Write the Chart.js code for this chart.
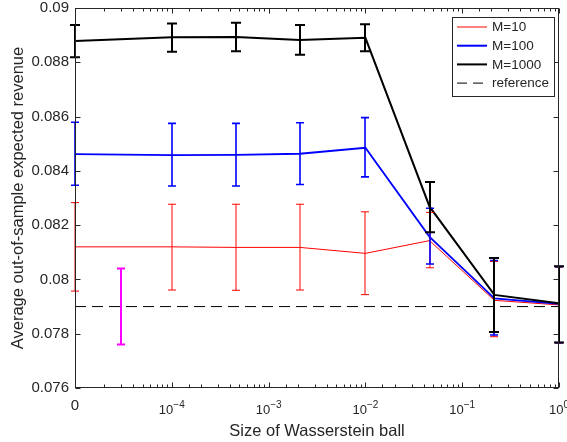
<!DOCTYPE html>
<html lang="en">
<head>
<meta charset="UTF-8">
<title>Wasserstein ball revenue</title>
<style>
    body { margin: 0; background: #fff; }
    #wrap { width: 567px; height: 442px; }
</style>
</head>
<body>
<div id="wrap"><canvas id="revChart" width="567" height="442"></canvas></div>

<script src="https://cdn.jsdelivr.net/npm/chart.js"></script>
<script>
    // ball sizes (the first one is shown as "0" on the log axis)
    const ballSizes = [0.00001, 0.0001, 0.00046, 0.0021, 0.01, 0.046, 0.215, 1];

    const m10Mean = [0.0812, 0.0812, 0.08118, 0.08118, 0.08096, 0.08143, 0.07923, 0.07906];
    const m10Lo   = [0.07957, 0.07961, 0.0796, 0.07961, 0.07944, 0.08043, 0.07789, 0.07765];
    const m10Hi   = [0.08283, 0.08277, 0.08277, 0.08277, 0.08249, 0.08247, 0.08066, 0.08045];

    const m100Mean = [0.08462, 0.08458, 0.08459, 0.08463, 0.08485, 0.08157, 0.0793, 0.0791];
    const m100Lo   = [0.08347, 0.08344, 0.08344, 0.0835, 0.08378, 0.08057, 0.07795, 0.07767];
    const m100Hi   = [0.08579, 0.08575, 0.08575, 0.08577, 0.08596, 0.08262, 0.0807, 0.08047];

    const m1000Mean = [0.08878, 0.08892, 0.08893, 0.08882, 0.0889, 0.08268, 0.07943, 0.07912];
    const m1000Lo   = [0.08819, 0.08839, 0.08841, 0.08828, 0.08841, 0.08174, 0.07806, 0.07768];
    const m1000Hi   = [0.08937, 0.08943, 0.08946, 0.08937, 0.0894, 0.08359, 0.08079, 0.08049];

    // magenta bar (no line)
    const benchX = [0.00003];
    const benchMean = [0.079];
    const benchLo = [0.0776];
    const benchHi = [0.0804];

    const refLevel = 0.079;
    const refX = [0.00001, 1];

    const seriesNames = ['M=10', 'M=100', 'M=1000', 'reference'];
    const yTicks = [0.076, 0.078, 0.08, 0.082, 0.084, 0.086, 0.088, 0.09];

    const txt = '#262626';
    const fam = '"Liberation Sans", Arial, Helvetica, sans-serif';

    function pts(xs, ys) {
        return xs.map((x, i) => ({ x: x, y: ys[i] }));
    }

    // error bars + frame + tick marks + legend
    const framePlugin = {
        id: 'frame',
        afterDatasetsDraw(chart) {
            const ctx = chart.ctx;
            const xs = chart.scales.x, ys = chart.scales.y;
            function bars(xv, lo, hi, color, lw, cap) {
                ctx.save();
                ctx.strokeStyle = color;
                ctx.lineWidth = lw;
                for (let i = 0; i < xv.length; i++) {
                    const px = Math.round(xs.getPixelForValue(xv[i]));
                    const a = ys.getPixelForValue(hi[i]);
                    const b = ys.getPixelForValue(lo[i]);
                    ctx.beginPath();
                    ctx.moveTo(px, a); ctx.lineTo(px, b);
                    ctx.moveTo(px - cap, a); ctx.lineTo(px + cap, a);
                    ctx.moveTo(px - cap, b); ctx.lineTo(px + cap, b);
                    ctx.stroke();
                }
                ctx.restore();
            }
            bars(ballSizes, m10Lo, m10Hi, '#ff0000', 1, 4);
            bars(ballSizes, m100Lo, m100Hi, '#0000ff', 1.6, 4);
            bars(ballSizes, m1000Lo, m1000Hi, '#000000', 2, 5);
            bars(benchX, benchLo, benchHi, '#ff00ff', 2, 4);
        },
        afterDraw(chart) {
            const ctx = chart.ctx;
            const a = chart.chartArea;
            const xs = chart.scales.x, ys = chart.scales.y;
            const L = Math.round(a.left) + 0.5, R = Math.round(a.right) - 0.5;
            const T = Math.round(a.top) + 0.5, B = Math.round(a.bottom) - 0.5;
            ctx.save();
            ctx.strokeStyle = txt;
            ctx.lineWidth = 1;
            ctx.strokeRect(L, T, R - L, B - T);

            // x ticks (inside, top and bottom)
            ctx.beginPath();
            xs.ticks.forEach(t => {
                const e = Math.log10(t.value);
                const major = Math.abs(e - Math.round(e)) < 1e-6;
                const len = major ? 5 : 3;
                const px = Math.round(xs.getPixelForValue(t.value)) + 0.5;
                ctx.moveTo(px, B); ctx.lineTo(px, B - len);
                ctx.moveTo(px, T); ctx.lineTo(px, T + len);
            });
            // y ticks (inside, left and right)
            ys.ticks.forEach(t => {
                const py = Math.round(ys.getPixelForValue(t.value)) + 0.5;
                ctx.moveTo(L, py); ctx.lineTo(L + 5, py);
                ctx.moveTo(R, py); ctx.lineTo(R - 5, py);
            });
            ctx.stroke();

            // x tick labels with superscripts
            ctx.fillStyle = txt;
            ctx.textBaseline = 'alphabetic';
            xs.ticks.forEach(t => {
                const e = Math.log10(t.value);
                const ri = Math.round(e);
                if (Math.abs(e - ri) > 1e-6) return;
                const px = xs.getPixelForValue(t.value);
                if (ri === -5) {
                    ctx.font = '15px ' + fam;
                    ctx.textAlign = 'center';
                    ctx.fillText('0', px, 410);
                    return;
                }
                const base = '10', sup = (ri < 0 ? '\u2212' : '') + Math.abs(ri);
                ctx.font = '13px ' + fam;
                const wb = ctx.measureText(base).width;
                ctx.font = '10px ' + fam;
                const we = ctx.measureText(sup).width;
                const x0 = px - (wb + we) / 2;
                ctx.textAlign = 'left';
                ctx.font = '13px ' + fam;
                ctx.fillText(base, x0, 414);
                ctx.font = '10px ' + fam;
                ctx.fillText(sup, x0 + wb, 408);
            });

            // legend
            const lx = 452.5, ly = 17.5, lw = 102, lh = 79;
            ctx.fillStyle = '#fff';
            ctx.fillRect(lx, ly, lw, lh);
            ctx.strokeStyle = txt;
            ctx.lineWidth = 1;
            ctx.strokeRect(lx, ly, lw, lh);
            const styles = [
                { c: '#ff0000', w: 1, d: [] },
                { c: '#0000ff', w: 2, d: [] },
                { c: '#000000', w: 2, d: [] },
                { c: '#000000', w: 1, d: [10, 6] }
            ];
            ctx.font = '13.5px ' + fam;
            ctx.textAlign = 'left';
            ctx.textBaseline = 'middle';
            seriesNames.forEach((name, i) => {
                const yy = 27 + i * 18.7;
                const s = styles[i];
                ctx.strokeStyle = s.c;
                ctx.lineWidth = s.w;
                ctx.setLineDash(s.d);
                ctx.beginPath();
                ctx.moveTo(457, yy); ctx.lineTo(487, yy);
                ctx.stroke();
                ctx.setLineDash([]);
                ctx.fillStyle = txt;
                ctx.fillText(name, 492, yy + 0.5);
            });
            ctx.restore();
        }
    };

    const ctx = document.getElementById('revChart').getContext('2d');
    const chart = new Chart(ctx, {
        type: 'line',
        data: {
            datasets: [
                { label: seriesNames[3], data: pts(refX, refX.map(() => refLevel)), borderColor: '#000', borderWidth: 1, borderDash: [11, 6], pointRadius: 0, order: 4 },
                { label: seriesNames[0], data: pts(ballSizes, m10Mean), borderColor: '#ff0000', borderWidth: 1, pointRadius: 0, order: 3 },
                { label: seriesNames[1], data: pts(ballSizes, m100Mean), borderColor: '#0000ff', borderWidth: 1.8, pointRadius: 0, order: 2 },
                { label: seriesNames[2], data: pts(ballSizes, m1000Mean), borderColor: '#000000', borderWidth: 2, pointRadius: 0, order: 1 },
                { label: 'bench', data: pts(benchX, benchMean), borderColor: '#ff00ff', showLine: false, pointRadius: 0, order: 0 }
            ]
        },
        options: {
            responsive: false,
            animation: false,
            layout: { padding: { top: 8, right: 8, left: 0, bottom: 0 } },
            plugins: { legend: { display: false }, tooltip: { enabled: false } },
            scales: {
                x: {
                    type: 'logarithmic',
                    min: 0.00001,
                    max: 1,
                    grid: { display: false, drawTicks: false },
                    border: { display: false },
                    ticks: { display: false, autoSkip: false },
                    title: {
                        display: true,
                        text: 'Size of Wasserstein ball',
                        color: txt,
                        font: { family: fam, size: 16.5 },
                        padding: { top: 0, bottom: 1 }
                    },
                    afterFit(s) { s.height = 54; s.paddingLeft = 0; s.paddingRight = 0; }
                },
                y: {
                    min: yTicks[0],
                    max: yTicks[yTicks.length - 1],
                    afterBuildTicks(s) { s.ticks = yTicks.map(v => ({ value: v })); },
                    grid: { display: false, drawTicks: false },
                    border: { display: false },
                    ticks: {
                        padding: 6,
                        color: txt,
                        font: { family: fam, size: 15 },
                        callback: v => String(parseFloat(Number(v).toFixed(3)))
                    },
                    title: {
                        display: true,
                        text: 'Average out-of-sample expected revenue',
                        color: txt,
                        font: { family: fam, size: 16.5 },
                        padding: { top: 9, bottom: 0 }
                    },
                    afterFit(s) { s.width = 75; s.paddingTop = 0; s.paddingBottom = 0; }
                }
            }
        },
        plugins: [framePlugin]
    });
</script>
</body>
</html>
